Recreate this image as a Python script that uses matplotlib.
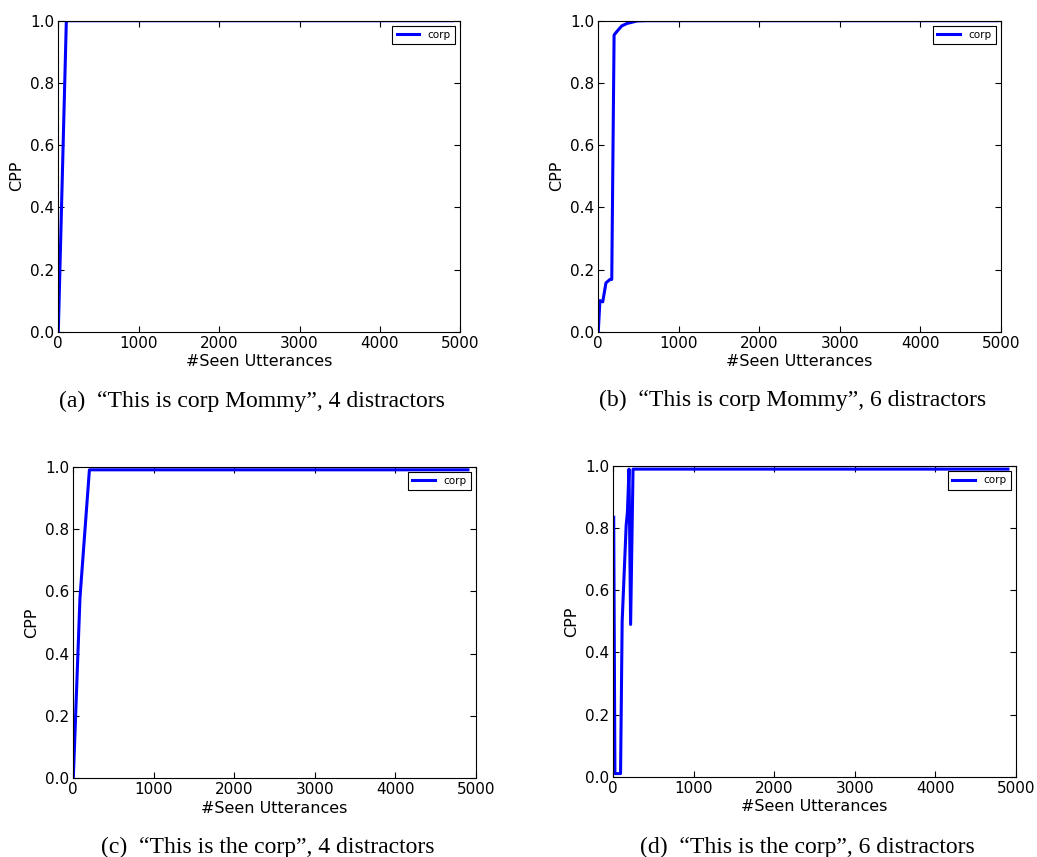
import matplotlib
matplotlib.use('Agg')
import matplotlib.pyplot as plt

# (a) "This is corp Mommy", 4 distractors
x_a = [0, 100, 4900]
y_a = [0.0, 1.0, 1.0]

# (b) "This is corp Mommy", 6 distractors
x_b = [0, 20, 55, 95, 145, 167, 196, 230, 290, 355, 480, 600, 4950]
y_b = [0.0, 0.10, 0.096, 0.157, 0.168, 0.168, 0.954, 0.965, 0.983, 0.991, 0.999, 1.0, 1.0]

# (c) "This is the corp", 4 distractors
x_c = [0, 83, 200, 4900]
y_c = [0.0, 0.58, 0.99, 0.99]

# (d) "This is the corp", 6 distractors
x_d = [5, 20, 90, 110, 160, 175, 195, 215, 245, 4900]
y_d = [0.835, 0.01, 0.01, 0.5, 0.81, 0.85, 0.99, 0.49, 0.99, 0.99]

captions = ['(a)  \u201cThis is corp Mommy\u201d, 4 distractors',
            '(b)  \u201cThis is corp Mommy\u201d, 6 distractors',
            '(c)  \u201cThis is the corp\u201d, 4 distractors',
            '(d)  \u201cThis is the corp\u201d, 6 distractors']

series = [(x_a, y_a), (x_b, y_b), (x_c, y_c), (x_d, y_d)]

# axes boxes in pixels: left, right, top, bottom
boxes = [(58.3, 460.3, 20.7, 331.7),
         (598.3, 1001.0, 20.7, 331.7),
         (73.3, 476.0, 466.7, 778.3),
         (613.3, 1016.0, 466.0, 776.7)]
cap_pos = [(252, 401), (793, 400), (267.5, 847), (807, 847)]

W, H = 1037, 857
fig = plt.figure(figsize=(W / 100, H / 100), dpi=100)

for (xs, ys), (l, r, t, b), cap, (cx, cy) in zip(series, boxes, captions, cap_pos):
    ax = fig.add_axes([l / W, 1 - b / H, (r - l) / W, (b - t) / H])
    ax.plot(xs, ys, color='b', lw=2.2, label='corp')
    ax.set_xlim(0, 5000)
    ax.set_ylim(0, 1.0)
    ax.set_xticks([0, 1000, 2000, 3000, 4000, 5000])
    ax.set_yticks([0.0, 0.2, 0.4, 0.6, 0.8, 1.0])
    ax.tick_params(direction='in', top=True, right=True, labelsize=11, length=4, pad=3)
    ax.set_xlabel('#Seen Utterances', fontsize=11.5, labelpad=2.5)
    ax.set_ylabel('CPP', fontsize=11.5, labelpad=4)
    leg = ax.legend(loc='upper right', fontsize=7.5, fancybox=False, framealpha=1,
                    handlelength=2.2, borderaxespad=0.5)
    leg.get_frame().set_edgecolor('black')
    leg.get_frame().set_linewidth(0.8)
    fig.text(cx / W, 1 - cy / H, cap, ha='center', va='center',
             fontsize=17, family='Liberation Serif')

fig.savefig('out.png', dpi=100)
